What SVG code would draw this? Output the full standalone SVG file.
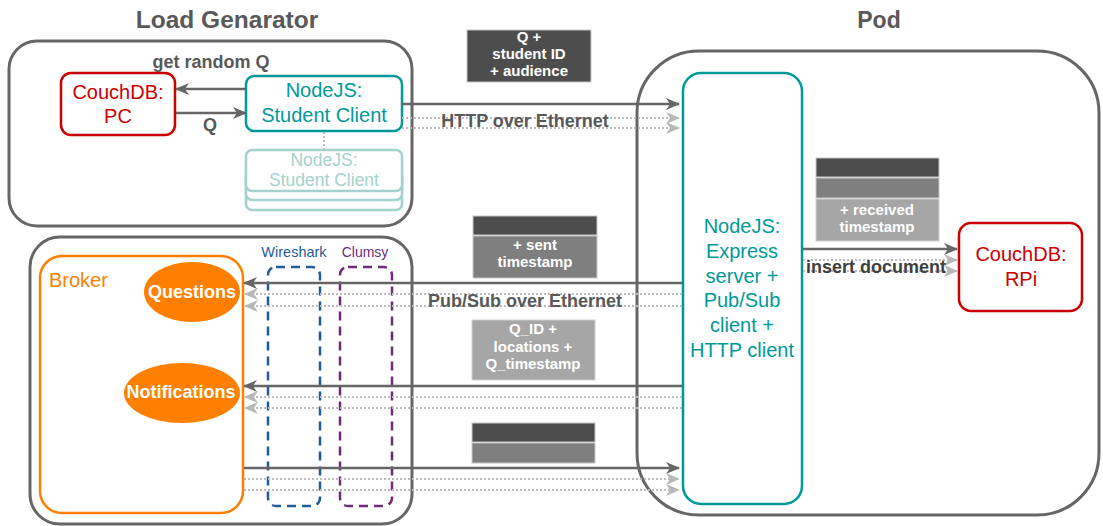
<svg xmlns="http://www.w3.org/2000/svg" width="1103" height="526" viewBox="0 0 1103 526">
<style>
text{font-family:"Liberation Sans",Arial,sans-serif}
.title{font-size:23px;font-weight:bold;fill:#595959;text-anchor:middle}
.lbl{font-size:18px;font-weight:bold;fill:#595959;text-anchor:middle}
.outer{fill:none;stroke:#666;stroke-width:3}
.teal{fill:#fff;stroke:#009999;stroke-width:2.5}
.tealt{font-size:20px;fill:#009999;text-anchor:middle}
.red{fill:#fff;stroke:#cc0000;stroke-width:2.5}
.redt{font-size:20px;fill:#cc0000;text-anchor:middle}
.faded{fill:#fff;stroke:#a3d3cc;stroke-width:2.5}
.fadedt{font-size:17.5px;fill:#a3d3cc;text-anchor:middle}
.boxt{font-size:15px;font-weight:bold;fill:#fff;text-anchor:middle}
.dk{fill:#4d4d4d;stroke:#c8c8c8;stroke-width:1}
.md{fill:#7f7f7f;stroke:#c8c8c8;stroke-width:1}
.lt{fill:#a6a6a6;stroke:#d0d0d0;stroke-width:1}
.solid{stroke:#666;stroke-width:2.5;fill:none}
.dot{stroke:#bdbdbd;stroke-width:2;stroke-dasharray:2 2;fill:none}
.sa{marker-end:url(#ah)}
.da{marker-end:url(#ahl)}
</style>
<defs>
<marker id="ah" markerUnits="userSpaceOnUse" markerWidth="14" markerHeight="12" viewBox="0 0 14 12" refX="13" refY="6" orient="auto">
<path d="M0,0 L14,6 L0,12 L4,6 z" fill="#666"/>
</marker>
<marker id="ahl" markerUnits="userSpaceOnUse" markerWidth="14" markerHeight="12" viewBox="0 0 14 12" refX="13" refY="6" orient="auto">
<path d="M0,0 L14,6 L0,12 L4,6 z" fill="#b8b8b8"/>
</marker>
</defs>

<g id="load-generator">
<text class="title" x="227" y="28" style="font-size:24.5px">Load Genarator</text>
<rect class="outer" x="9" y="41" width="403" height="185" rx="28"/>
</g>
<g id="pod">
<text class="title" x="879" y="28">Pod</text>
<rect class="outer" x="637" y="51" width="462" height="464" rx="62"/>
</g>
<g id="broker-host">
<rect class="outer" x="30" y="237" width="382" height="287" rx="30"/>
</g>

<g id="couchdb-pc">
<rect class="red" x="61" y="73" width="114" height="62" rx="10"/>
<text class="redt" x="118" y="99">CouchDB:</text>
<text class="redt" x="118" y="123">PC</text>
</g>

<g id="student-clients-faded">
<rect class="faded" x="246" y="170" width="156" height="40" rx="6"/>
<rect class="faded" x="246" y="160" width="156" height="40" rx="6"/>
<rect class="faded" x="246" y="150" width="156" height="41" rx="6"/>
<text class="fadedt" x="324" y="166">NodeJS:</text>
<text class="fadedt" x="324" y="186">Student Client</text>
</g>

<g id="student-client">
<rect class="teal" x="246" y="76" width="156" height="55" rx="8"/>
<text class="tealt" x="324" y="97">NodeJS:</text>
<text class="tealt" x="324" y="122">Student Client</text>
</g>

<g id="express-server">
<rect class="teal" x="683" y="73" width="119" height="431" rx="18"/>
<text class="tealt" x="742" y="233">NodeJS:</text>
<text class="tealt" x="742" y="258">Express</text>
<text class="tealt" x="742" y="283">server +</text>
<text class="tealt" x="742" y="307">Pub/Sub</text>
<text class="tealt" x="742" y="332">client +</text>
<text class="tealt" x="742" y="357">HTTP client</text>
</g>

<g id="couchdb-rpi">
<rect class="red" x="959" y="223" width="123" height="88" rx="12"/>
<text class="redt" x="1021" y="261">CouchDB:</text>
<text class="redt" x="1021" y="286">RPi</text>
</g>

<g id="broker">
<rect x="40" y="256" width="203" height="257" rx="22" fill="#fff" stroke="#ff8000" stroke-width="2.5"/>
<text x="49" y="287" font-size="20" fill="#ff8000">Broker</text>
</g>
<g id="questions">
<ellipse cx="192" cy="292" rx="48" ry="30" fill="#ff8000"/>
<text x="192" y="298" font-size="18" font-weight="bold" fill="#fff" text-anchor="middle">Questions</text>
</g>
<g id="notifications">
<ellipse cx="182" cy="393" rx="58" ry="30" fill="#ff8000"/>
<text x="181" y="398" font-size="18" font-weight="bold" fill="#fff" text-anchor="middle">Notifications</text>
</g>

<g id="wireshark">
<text x="294" y="257" font-size="14.5" fill="#1f5c99" text-anchor="middle">Wireshark</text>
<rect x="268" y="267" width="52" height="239" rx="8" fill="none" stroke="#1f5c99" stroke-width="2.5" stroke-dasharray="9 6"/>
</g>
<g id="clumsy">
<text x="365" y="257" font-size="14" fill="#702a7a" text-anchor="middle">Clumsy</text>
<rect x="340" y="267" width="52" height="239" rx="8" fill="none" stroke="#702a7a" stroke-width="2.5" stroke-dasharray="9 6"/>
</g>

<g id="connectors">
<line class="solid sa" x1="246" y1="89" x2="176" y2="89"/>
<line class="solid sa" x1="176" y1="113" x2="246" y2="113"/>
<line x1="324" y1="132" x2="324" y2="150" stroke="#bdbdbd" stroke-width="2" stroke-dasharray="2 2"/>

<line class="solid sa" x1="402" y1="104" x2="679" y2="104"/>
<line class="dot da" x1="402" y1="118" x2="679" y2="118"/>
<line class="dot da" x1="402" y1="128" x2="679" y2="128"/>

<line class="solid sa" x1="682" y1="283" x2="244" y2="283"/>
<line class="dot da" x1="682" y1="294" x2="245" y2="294"/>
<line class="dot da" x1="682" y1="306" x2="245" y2="306"/>

<line class="solid sa" x1="682" y1="386" x2="244" y2="386"/>
<line class="dot da" x1="682" y1="397" x2="245" y2="397"/>
<line class="dot da" x1="682" y1="408" x2="245" y2="408"/>

<line class="solid sa" x1="244" y1="468" x2="679" y2="468"/>
<line class="dot da" x1="244" y1="479" x2="679" y2="479"/>
<line class="dot da" x1="244" y1="490" x2="679" y2="490"/>

<line class="solid sa" x1="803" y1="249" x2="957" y2="249"/>
<line class="dot da" x1="803" y1="260" x2="957" y2="260"/>
<line class="dot da" x1="803" y1="271" x2="957" y2="271"/>

<text class="lbl" x="211" y="68">get random Q</text>
<text class="lbl" x="210" y="131">Q</text>
<text class="lbl" x="525" y="127">HTTP over Ethernet</text>
<text class="lbl" x="525" y="307">Pub/Sub over Ethernet</text>
<text class="lbl" x="876" y="273" style="fill:#404040">insert document</text>
</g>

<g id="msg-http">
<rect class="dk" x="467" y="30" width="124" height="52"/>
<text class="boxt" x="529" y="42">Q +</text>
<text class="boxt" x="529" y="59">student ID</text>
<text class="boxt" x="529" y="76">+ audience</text>
</g>
<g id="msg-sent">
<rect class="dk" x="473" y="216" width="124" height="19"/>
<rect class="md" x="473" y="236" width="124" height="42"/>
<text class="boxt" x="535" y="250">+ sent</text>
<text class="boxt" x="535" y="267">timestamp</text>
</g>
<g id="msg-notif">
<rect class="lt" x="472" y="320" width="123" height="60"/>
<text class="boxt" x="533" y="334">Q_ID +</text>
<text class="boxt" x="533" y="352">locations +</text>
<text class="boxt" x="533" y="369">Q_timestamp</text>
</g>
<g id="msg-bottom">
<rect class="dk" x="472" y="423" width="123" height="19"/>
<rect class="md" x="472" y="443" width="123" height="20"/>
</g>
<g id="msg-received">
<rect class="dk" x="816" y="158" width="123" height="19"/>
<rect class="md" x="816" y="178" width="123" height="20"/>
<rect class="lt" x="816" y="199" width="123" height="42"/>
<text class="boxt" x="877" y="215">+ received</text>
<text class="boxt" x="877" y="232">timestamp</text>
</g>
</svg>
